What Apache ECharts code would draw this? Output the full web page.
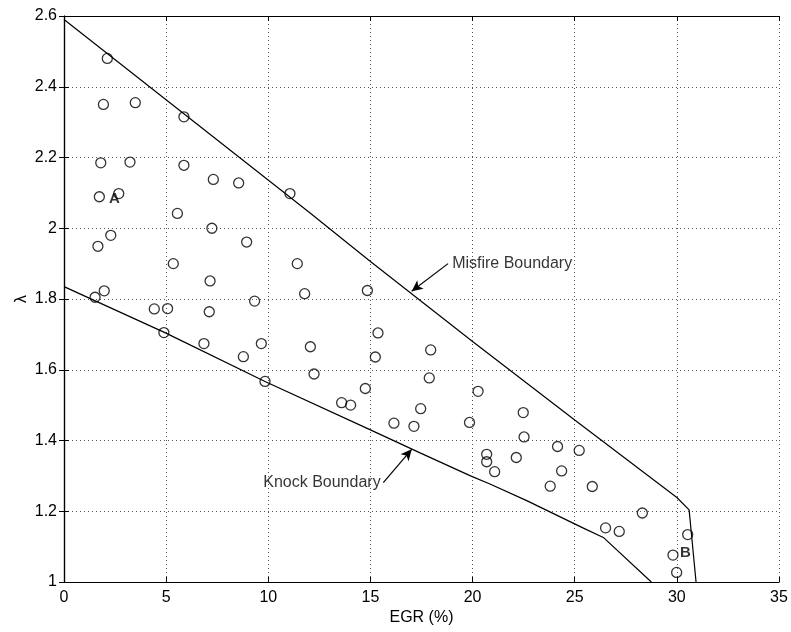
<!DOCTYPE html>
<html>
<head>
    <meta charset="UTF-8">
    <title>EGR vs lambda</title>
    <style>
        html, body { margin: 0; padding: 0; background: #fff; }
        #chart { width: 791px; height: 632px; }
    </style>
    <script src="https://cdn.jsdelivr.net/npm/echarts@6/dist/echarts.min.js"></script>
</head>
<body>
    <div id="chart"></div>
    <script>
        // measured operating points: EGR (%) and lambda
        var egr = [2.12, 1.93, 3.49, 5.87, 1.80, 3.23, 5.87, 7.31, 8.55, 11.06,
                   1.73, 2.68, 5.55, 7.24, 2.29, 1.66, 8.94, 5.35, 11.42, 7.15,
                   1.97, 11.78, 1.52, 9.33, 4.42, 5.07, 7.11, 4.89, 6.85, 9.66,
                   12.06, 8.78, 12.24, 9.84, 14.85, 15.37, 15.24, 17.95, 17.88, 14.75,
                   20.27, 13.59, 14.03, 16.15, 17.13, 17.46, 19.85, 22.48, 22.52, 24.16,
                   25.22, 20.69, 20.69, 22.14, 21.08, 24.36, 23.80, 25.86, 28.31, 26.51,
                   27.18, 30.53, 29.81, 29.99];
        var lambda = [2.48, 2.35, 2.355, 2.315, 2.185, 2.187, 2.178, 2.138, 2.128, 2.098,
                      2.089, 2.098, 2.042, 2.0, 1.98, 1.949, 1.961, 1.90, 1.90, 1.851,
                      1.823, 1.815, 1.805, 1.794, 1.772, 1.773, 1.764, 1.705, 1.674, 1.674,
                      1.665, 1.637, 1.588, 1.567, 1.824, 1.704, 1.636, 1.656, 1.577, 1.547,
                      1.539, 1.507, 1.50, 1.449, 1.44, 1.49, 1.451, 1.479, 1.41, 1.383,
                      1.372, 1.361, 1.34, 1.352, 1.312, 1.314, 1.271, 1.27, 1.195, 1.153,
                      1.143, 1.134, 1.076, 1.027];

        // boundaries
        var misfireX = [0, 12, 15, 20, 25, 30, 30.6, 30.94];
        var misfireY = [2.59, 2.045, 1.906, 1.68, 1.458, 1.239, 1.204, 1.0];
        var knockX = [0, 4.94, 9.84, 15, 17.43, 19.9, 20.85, 22.65, 25.4, 26.4, 28.75];
        var knockY = [1.835, 1.705, 1.567, 1.43, 1.365, 1.3, 1.277, 1.23, 1.153, 1.126, 1.0];

        var xTicks = [0, 5, 10, 15, 20, 25, 30, 35];
        var yTicks = [1, 1.2, 1.4, 1.6, 1.8, 2, 2.2, 2.4, 2.6];

        function zip(a, b) {
            return a.map(function (v, i) { return [v, b[i]]; });
        }

        var font = '"Liberation Sans", Arial, sans-serif';
        var gridLine = { show: true, lineStyle: { color: '#555', type: [1, 3], width: 1 } };

        var chart = echarts.init(document.getElementById('chart'));
        var option = {
            animation: false,
            grid: { left: 64, right: 12, top: 16, bottom: 50 },
            xAxis: [
                {
                    type: 'value', min: xTicks[0], max: xTicks[xTicks.length - 1], interval: 5,
                    name: 'EGR (%)', nameLocation: 'middle', nameGap: 28, nameMoveOverlap: false,
                    nameTextStyle: { color: '#000', fontSize: 16, fontFamily: font },
                    axisLine: { lineStyle: { color: '#000', width: 1.2 } },
                    axisTick: { inside: true, length: 5, lineStyle: { color: '#000' } },
                    axisLabel: { color: '#000', fontSize: 16, fontFamily: font, margin: 8 },
                    splitLine: gridLine
                },
                {
                    type: 'value', position: 'top', min: 0, max: 35, interval: 5,
                    axisLine: { show: true, lineStyle: { color: '#000', width: 1.2 } },
                    axisTick: { show: true, inside: true, length: 5, lineStyle: { color: '#000' } },
                    axisLabel: { show: false }, splitLine: { show: false }
                }
            ],
            yAxis: [
                {
                    type: 'value', min: yTicks[0], max: yTicks[yTicks.length - 1], interval: 0.2,
                    name: 'λ', nameLocation: 'middle', nameGap: 34, nameRotate: 90, nameMoveOverlap: false,
                    nameTextStyle: { color: '#000', fontSize: 16, fontFamily: font },
                    axisLine: { show: true, lineStyle: { color: '#000', width: 1.2 } },
                    axisTick: { show: true, inside: true, length: 5, lineStyle: { color: '#000' } },
                    axisLabel: { color: '#000', fontSize: 16, fontFamily: font, margin: 7 },
                    splitLine: gridLine
                },
                {
                    type: 'value', position: 'right', min: 1, max: 2.6, interval: 0.2,
                    axisLine: { show: true, lineStyle: { color: '#000', width: 1.2 } },
                    axisTick: { show: true, inside: true, length: 5, lineStyle: { color: '#000' } },
                    axisLabel: { show: false }, splitLine: { show: false }
                }
            ],
            series: [
                {
                    name: 'Misfire Boundary', type: 'line', data: zip(misfireX, misfireY),
                    showSymbol: false, lineStyle: { color: '#000', width: 1.2 }, z: 2,
                    markLine: {
                        silent: true, symbol: ['none', 'arrow'], symbolSize: [8, 11],
                        lineStyle: { color: '#000', width: 1.2, type: 'solid' },
                        label: { show: false },
                        data: [
                            [{ coord: [18.8, 1.90] }, { coord: [17.02, 1.822] }],
                            [{ coord: [15.63, 1.281] }, { coord: [17.02, 1.375] }]
                        ]
                    }
                },
                {
                    name: 'Knock Boundary', type: 'line', data: zip(knockX, knockY),
                    showSymbol: false, lineStyle: { color: '#000', width: 1.2 }, z: 2
                },
                {
                    name: 'points', type: 'scatter', data: zip(egr, lambda),
                    symbol: 'circle', symbolSize: 10,
                    itemStyle: { color: 'rgba(255,255,255,0)', borderColor: '#000', borderWidth: 1.3 },
                    z: 3
                },
                {
                    name: 'labels', type: 'scatter', symbolSize: 0, silent: true, z: 4,
                    data: [
                        { value: [19.0, 1.90], label: { formatter: 'Misfire Boundary', position: 'right', distance: 0 } },
                        { value: [15.5, 1.28], label: { formatter: 'Knock Boundary', position: 'left', distance: 0 } },
                        { value: [2.2, 2.083], label: { formatter: 'A', position: 'right', distance: 0, fontWeight: 'bold', fontSize: 15 } },
                        { value: [30.15, 1.082], label: { formatter: 'B', position: 'right', distance: 0, fontWeight: 'bold', fontSize: 15 } }
                    ],
                    label: { show: true, color: '#000', fontSize: 16, fontFamily: font }
                }
            ]
        };
        chart.setOption(option);
    </script>
</body>
</html>
